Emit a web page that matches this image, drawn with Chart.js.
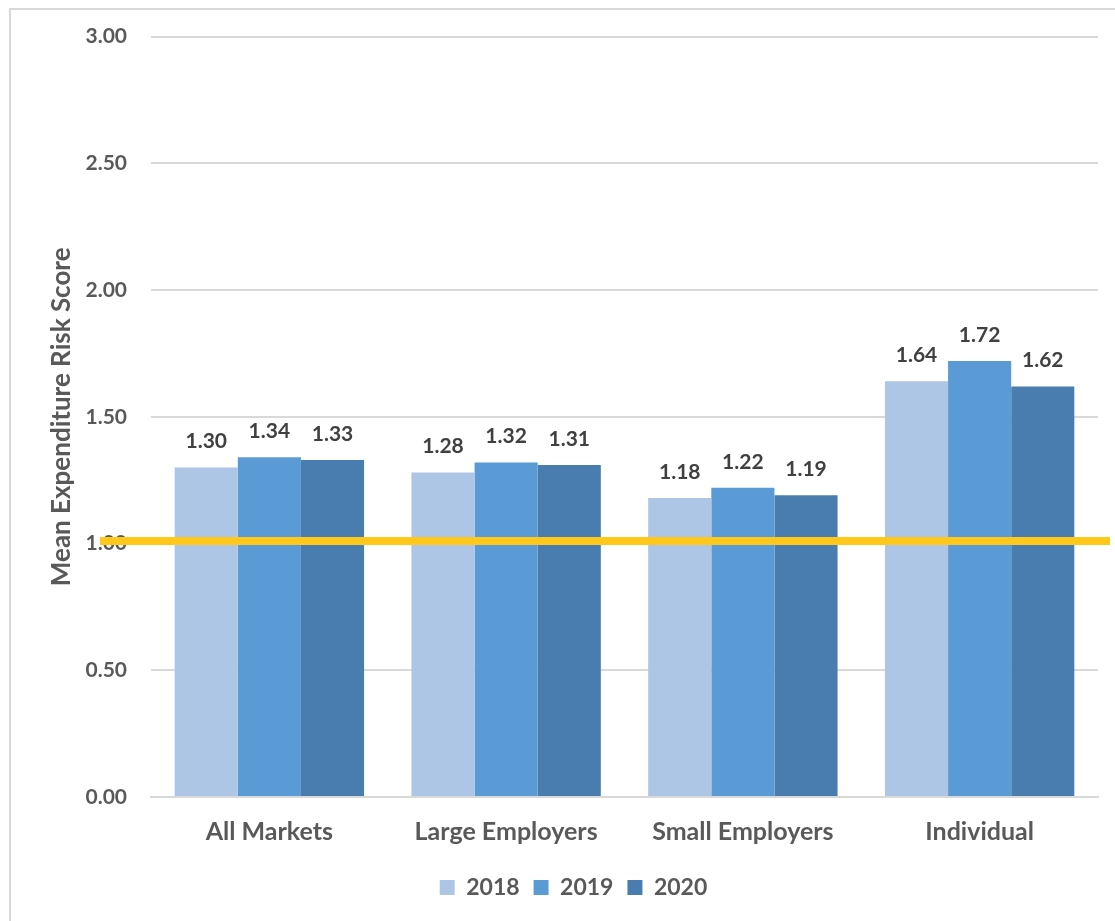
<!DOCTYPE html>
<html>
<head>
<meta charset="utf-8">
<script src="https://cdn.jsdelivr.net/npm/chart.js@4/dist/chart.umd.min.js"></script>
<style>
    html, body { margin: 0; padding: 0; background: #fff; }
    #wrap { width: 1115px; height: 921px; position: relative; }
</style>
</head>
<body>
<div id="wrap"><canvas id="chart" width="1115" height="921"></canvas></div>
<script>
// Data
const categories = ['All Markets', 'Large Employers', 'Small Employers', 'Individual'];
const years = ['2018', '2019', '2020'];
const values2018 = [1.30, 1.28, 1.18, 1.64];
const values2019 = [1.34, 1.32, 1.22, 1.72];
const values2020 = [1.33, 1.31, 1.19, 1.62];
const yTicks = [0, 0.5, 1.0, 1.5, 2.0, 2.5, 3.0];
const referenceLine = 1.01;

const colors = ['#AEC6E6', '#5B9BD5', '#4A7DAF'];
const fontFamily = "Lato, 'Open Sans', sans-serif";

// Outer frame like the original chart box
const framePlugin = {
    id: 'frame',
    beforeDraw(chart) {
        const ctx = chart.ctx;
        ctx.save();
        ctx.fillStyle = '#fff';
        ctx.fillRect(0, 0, chart.width, chart.height);
        ctx.strokeStyle = '#d9d9d9';
        ctx.lineWidth = 2;
        ctx.strokeRect(10, 9, chart.width + 20, chart.height + 20);
        ctx.restore();
    }
};

// Value labels above each bar
const valueLabels = {
    id: 'valueLabels',
    afterDatasetsDraw(chart) {
        const ctx = chart.ctx;
        ctx.save();
        ctx.font = `bold 21px ${fontFamily}`;
        ctx.fillStyle = '#404040';
        ctx.textAlign = 'center';
        ctx.textBaseline = 'middle';
        chart.data.datasets.forEach((ds, i) => {
            chart.getDatasetMeta(i).data.forEach((bar, j) => {
                ctx.fillText(ds.data[j].toFixed(2), bar.x, bar.y - 26);
            });
        });
        ctx.restore();
    }
};

// Yellow reference line across the chart
const refLine = {
    id: 'refLine',
    afterDraw(chart) {
        const y = chart.scales.y.getPixelForValue(referenceLine);
        const ctx = chart.ctx;
        ctx.save();
        ctx.strokeStyle = '#FFC81A';
        ctx.lineWidth = 8;
        ctx.beginPath();
        ctx.moveTo(chart.chartArea.left - 51, y);
        ctx.lineTo(chart.width - 5, y);
        ctx.stroke();
        ctx.restore();
    }
};

const datasets = [values2018, values2019, values2020].map((vals, i) => ({
    label: years[i],
    data: vals,
    backgroundColor: colors[i],
    borderWidth: 0,
    categoryPercentage: 0.8,
    barPercentage: 1.0
}));

new Chart(document.getElementById('chart'), {
    type: 'bar',
    data: { labels: categories, datasets },
    options: {
        responsive: false,
        animation: false,
        layout: { padding: { top: 33, right: 17, left: 49, bottom: 12 } },
        plugins: {
            tooltip: { enabled: false },
            legend: {
                position: 'bottom',
                labels: {
                    boxWidth: 15,
                    boxHeight: 15,
                    padding: 14,
                    color: '#595959',
                    font: { family: fontFamily, size: 23, weight: 'bold' }
                }
            }
        },
        scales: {
            x: {
                grid: { display: false, drawTicks: false },
                border: { display: true, color: '#d9d9d9', width: 2 },
                ticks: {
                    color: '#595959',
                    padding: 20,
                    font: { family: fontFamily, size: 25, weight: 'bold' }
                },
                afterFit(scale) { scale.height = 65; }
            },
            y: {
                min: 0,
                max: 3,
                afterBuildTicks(scale) { scale.ticks = yTicks.map(v => ({ value: v })); },
                grid: { color: '#d9d9d9', lineWidth: 2, drawTicks: false },
                border: { display: false },
                ticks: {
                    color: '#595959',
                    padding: 24,
                    font: { family: fontFamily, size: 21, weight: 'bold' },
                    callback: v => Number(v).toFixed(2)
                },
                title: {
                    display: true,
                    text: 'Mean Expenditure Risk Score',
                    color: '#595959',
                    font: { family: fontFamily, size: 26, weight: 'bold', lineHeight: 1.0 },
                    padding: { top: 0, bottom: 0 }
                },
                afterFit(scale) { scale.width = 102; }
            }
        }
    },
    plugins: [framePlugin, valueLabels, refLine]
});
</script>
</body>
</html>
